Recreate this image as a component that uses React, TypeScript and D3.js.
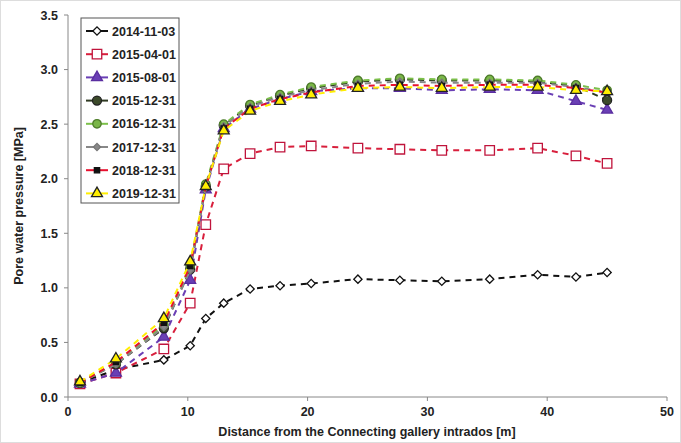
import React from "react";
import * as d3 from "d3";

const xDist = [1, 4, 8, 10.2, 11.5, 13, 15.2, 17.7, 20.3, 24.2, 27.7, 31.2, 35.2, 39.2, 42.4, 45];

const s20141103 = [0.13, 0.25, 0.34, 0.47, 0.72, 0.86, 0.99, 1.02, 1.04, 1.08, 1.07, 1.06, 1.08, 1.12, 1.10, 1.14];
const s20150401 = [0.12, 0.22, 0.44, 0.86, 1.58, 2.09, 2.23, 2.29, 2.30, 2.28, 2.27, 2.26, 2.26, 2.28, 2.21, 2.14];
const s20150801 = [0.12, 0.22, 0.55, 1.07, 1.90, 2.46, 2.64, 2.73, 2.80, 2.83, 2.83, 2.81, 2.82, 2.81, 2.71, 2.63];
const s20151231 = [0.13, 0.30, 0.63, 1.17, 1.93, 2.49, 2.67, 2.76, 2.83, 2.89, 2.91, 2.90, 2.90, 2.89, 2.85, 2.72];
const s20161231 = [0.13, 0.31, 0.66, 1.20, 1.95, 2.50, 2.68, 2.77, 2.84, 2.90, 2.92, 2.91, 2.91, 2.90, 2.86, 2.81];
const s20171231 = [0.13, 0.30, 0.64, 1.16, 1.92, 2.48, 2.66, 2.75, 2.81, 2.87, 2.89, 2.88, 2.88, 2.88, 2.84, 2.79];
const s20181231 = [0.13, 0.32, 0.68, 1.20, 1.93, 2.46, 2.64, 2.73, 2.79, 2.85, 2.86, 2.85, 2.86, 2.86, 2.83, 2.79];
const s20191231 = [0.14, 0.35, 0.72, 1.24, 1.93, 2.44, 2.62, 2.71, 2.77, 2.83, 2.84, 2.83, 2.84, 2.84, 2.81, 2.80];

const seriesNames = ["2014-11-03", "2015-04-01", "2015-08-01", "2015-12-31", "2016-12-31", "2017-12-31", "2018-12-31", "2019-12-31"];
const seriesValues = [s20141103, s20150401, s20150801, s20151231, s20161231, s20171231, s20181231, s20191231];

const xTicks = [0, 10, 20, 30, 40, 50];
const yTicks = [0, 0.5, 1.0, 1.5, 2.0, 2.5, 3.0, 3.5];

type Style = { line: string; shape: string; fill: string; stroke: string; size: number };
const styles: Style[] = [
  { line: "#111", shape: "diamond", fill: "#fff", stroke: "#111", size: 34 },
  { line: "#d81f3c", shape: "square", fill: "#fff", stroke: "#c0143c", size: 90 },
  { line: "#6a3fb5", shape: "triangle", fill: "#6a3fb5", stroke: "#5a2ea0", size: 52 },
  { line: "#2f3a22", shape: "circle", fill: "#3c4a2a", stroke: "#222", size: 64 },
  { line: "#7cc04a", shape: "circle", fill: "#7ab648", stroke: "#4e7d2b", size: 56 },
  { line: "#888", shape: "diamond", fill: "#888", stroke: "#777", size: 26 },
  { line: "#e8102e", shape: "square", fill: "#111", stroke: "#111", size: 28 },
  { line: "#ffee00", shape: "triangle", fill: "#ffee00", stroke: "#222", size: 52 },
];

const symType = (s: string) =>
  s === "diamond" || s === "square" ? d3.symbolSquare : s === "triangle" ? d3.symbolTriangle : d3.symbolCircle;

export default function App() {
  const W = 681, H = 443;
  const x = d3.scaleLinear().domain([0, 50]).range([68, 667]);
  const y = d3.scaleLinear().domain([0, 3.5]).range([397, 15]);
  const line = d3.line<number>().x((_, i) => x(xDist[i])).y((d) => y(d));
  const font = "'Liberation Sans', Arial, sans-serif";
  const rot = (s: string) => (s === "diamond" ? " rotate(45)" : "");

  return (
    <svg width={W} height={H} style={{ position: "absolute", left: 0, top: 0, background: "#fff" }} fontFamily={font}>
      <rect x={0.5} y={0.5} width={W - 1} height={H - 1} fill="#fff" stroke="#ddd" />
      {/* axes */}
      <line x1={x(0)} x2={x(50)} y1={y(0)} y2={y(0)} stroke="#888" strokeWidth={1} />
      <line x1={x(0)} x2={x(0)} y1={y(0)} y2={y(3.5)} stroke="#888" strokeWidth={1} />
      {xTicks.map((t) => (
        <g key={"x" + t}>
          <line x1={x(t)} x2={x(t)} y1={y(0)} y2={y(0) + 4} stroke="#888" />
          <text x={x(t)} y={y(0) + 19} textAnchor="middle" fontSize={12.5} fontWeight="bold" fill="#222">
            {t}
          </text>
        </g>
      ))}
      {yTicks.map((t) => (
        <g key={"y" + t}>
          <line x1={x(0) - 4} x2={x(0)} y1={y(t)} y2={y(t)} stroke="#888" />
          <text x={x(0) - 10} y={y(t) + 4.5} textAnchor="end" fontSize={12.5} fontWeight="bold" fill="#222">
            {t.toFixed(1)}
          </text>
        </g>
      ))}
      <text x={367} y={436} textAnchor="middle" fontSize={12.5} fontWeight="bold" fill="#222">
        Distance from the Connecting gallery intrados [m]
      </text>
      <text transform={`translate(23,206) rotate(-90)`} textAnchor="middle" fontSize={12.5} fontWeight="bold" fill="#222">
        Pore water pressure [MPa]
      </text>
      {/* series */}
      {seriesValues.map((vals, si) => {
        const st = styles[si];
        const sym = d3.symbol().type(symType(st.shape)).size(st.size)();
        return (
          <g key={seriesNames[si]}>
            <path d={line(vals) || ""} fill="none" stroke={st.line} strokeWidth={2} strokeDasharray="6,5" />
            {vals.map((v, i) => (
              <path
                key={i}
                d={sym || ""}
                transform={`translate(${x(xDist[i])},${y(v)})${rot(st.shape)}`}
                fill={st.fill}
                stroke={st.stroke}
                strokeWidth={1.3}
              />
            ))}
          </g>
        );
      })}
      {/* legend */}
      <rect x={81} y={18} width={98} height={185} fill="#fff" stroke="#555" strokeWidth={1} />
      {seriesNames.map((n, i) => {
        const st = styles[i];
        const ly = 31 + i * 23.2;
        const sym = d3.symbol().type(symType(st.shape)).size(st.size)();
        return (
          <g key={"lg" + n}>
            <line x1={86} x2={108} y1={ly} y2={ly} stroke={st.line} strokeWidth={2} />
            <path d={sym || ""} transform={`translate(97,${ly})${rot(st.shape)}`} fill={st.fill} stroke={st.stroke} strokeWidth={1.3} />
            <text x={112} y={ly + 4.5} fontSize={12.5} fontWeight="bold" fill="#222">
              {n}
            </text>
          </g>
        );
      })}
    </svg>
  );
}
